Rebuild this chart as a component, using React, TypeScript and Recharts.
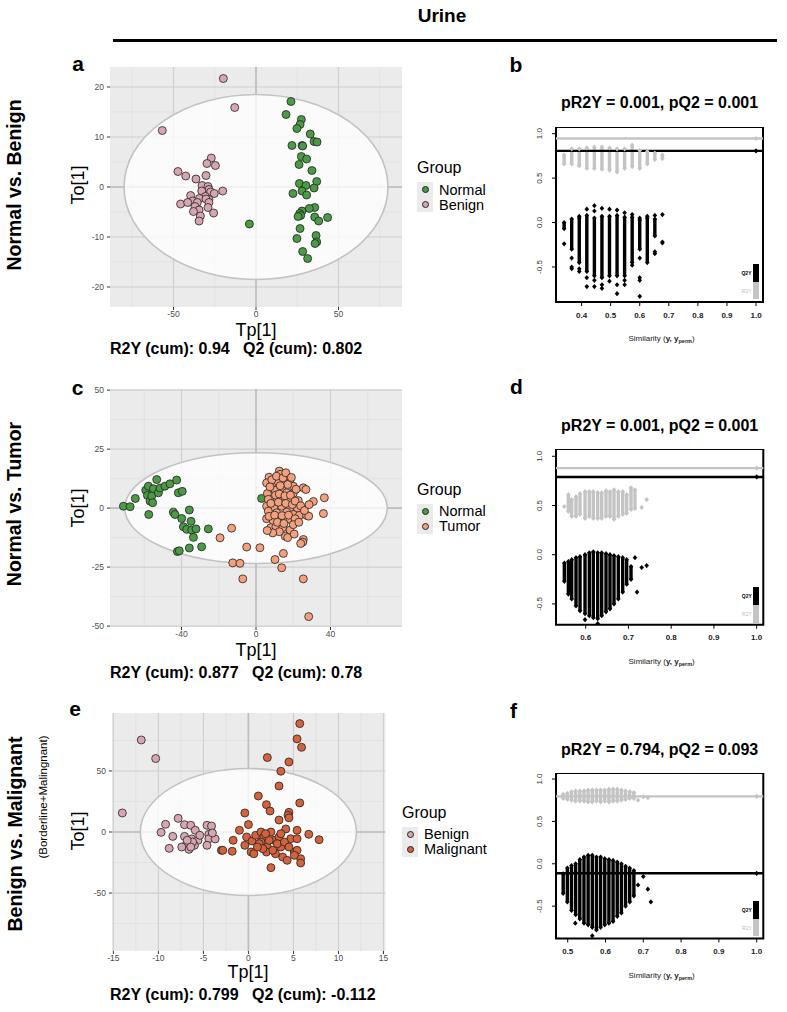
import React from 'react';
import {
  ScatterChart,
  Scatter,
  XAxis,
  YAxis,
  CartesianGrid,
  ReferenceLine,
  ReferenceArea,
} from 'recharts';

const FONT = '"Liberation Sans", Arial, Helvetica, sans-serif';
const NARROW = '"Liberation Sans Narrow", "Arial Narrow", "Liberation Sans", sans-serif';

type XY = [number, number];
type Col = [number, number, number]; // x, low, high

// ---------- score plots (Tp[1] vs To[1]) ----------
const normalA: XY[] = [
  [21.2, 17.1], [18.2, 14.5], [27.5, 13.5], [26.7, 12.5], [24.8, 11.7], [32.9, 10.6], [35.2, 9.1],
  [37.0, 9.0], [21.8, 8.3], [27.9, 8.3], [28.3, 8.2], [27.5, 6.1], [30.7, 5.6], [26.1, 4.5],
  [33.9, 3.3], [36.8, 1.1], [26.3, 0.7], [30.3, 0.3], [35.2, -0.2], [27.9, -0.8], [22.4, -1.3],
  [30.7, -1.6], [35.6, -4.1], [32.3, -4.3], [27.9, -4.8], [26.5, -5.3], [27.1, -5.7], [25.5, -5.9],
  [35.6, -6.0], [38.0, -6.8], [43.4, -6.1], [26.7, -8.3], [-4.0, -7.4], [36.4, -9.7], [24.8, -10.3],
  [36.8, -11.0], [35.8, -11.3], [28.3, -12.9], [31.3, -14.3],
];
const benignA: XY[] = [
  [-19.8, 21.7], [-12.9, 15.9], [-56.8, 11.3], [-27.1, 5.8], [-29.7, 4.7], [-24.6, 4.3], [-47.3, 3.1],
  [-42.6, 2.2], [-30.3, 2.3], [-36.4, 1.6], [-32.7, 0.3], [-29.1, 0.1], [-28.5, -0.5], [-32.9, -0.8],
  [-27.5, -1.0], [-20.2, -0.8], [-25.3, -1.3], [-39.6, -1.7], [-30.7, -1.9], [-34.3, -2.3], [-28.5, -2.5],
  [-38.4, -2.8], [-30.3, -2.4], [-45.7, -3.4], [-41.4, -3.1], [-35.6, -3.1], [-28.5, -3.1], [-37.0, -3.9],
  [-29.1, -4.1], [-34.5, -4.6], [-37.9, -4.9], [-25.7, -5.2], [-33.7, -5.8], [-34.5, -6.8],
];

const normalC: XY[] = [
  [-71.2, 0.8], [-67.6, 0.6], [-64.8, 4.1], [-59.2, 7.6], [-57.8, 9.3], [-55.1, 8.2], [-53.3, 12.1],
  [-58.3, 5.4], [-56.9, 3.0], [-56.0, 5.1], [-55.5, 2.3], [-52.4, 6.5], [-51.5, 8.5], [-48.9, 9.3],
  [-46.2, 10.3], [-42.6, 11.9], [-41.7, 6.5], [-39.6, 7.1], [-57.6, -2.7], [-44.4, -1.7], [-43.5, -2.7],
  [-35.8, -0.8], [-39.9, -4.4], [-34.9, -5.6], [-39.0, -7.9], [-37.2, -9.0], [-34.5, -9.3], [-32.2, -8.8],
  [-25.6, -8.8], [-33.6, -12.4], [-29.2, -16.4], [-35.8, -16.9], [-42.2, -18.4], [-41.2, -18.1], [3.0, 4.1],
];
const tumorC: XY[] = [
  [12.5, 15.7], [12.9, 14.3], [7.0, 13.1], [16.5, 12.4], [5.7, 10.7], [9.3, 10.7], [12.0, 11.0],
  [18.3, 10.7], [20.0, 9.3], [25.4, 8.6], [26.8, 7.9], [6.1, 6.2], [10.2, 7.6], [13.8, 8.6], [16.5, 6.5],
  [20.0, 6.2], [6.6, 3.7], [11.1, 3.0], [14.7, 4.1], [17.9, 3.7], [22.7, 3.2], [30.8, 2.8], [36.7, 4.4],
  [5.7, 0.8], [9.7, 0.1], [13.8, 0.8], [18.3, 0.1], [22.2, 0.0], [6.6, -1.3], [11.1, -2.0], [16.5, -1.7],
  [20.0, -2.7], [23.3, -3.1], [27.2, -3.1], [28.3, -3.4], [36.2, -2.3], [5.7, -4.5], [9.3, -5.5],
  [12.9, -4.8], [18.3, -4.8], [7.9, -8.3], [10.7, -7.9], [14.3, -8.3], [18.3, -9.3], [15.7, -11.9],
  [25.4, -13.3], [25.1, -14.4], [24.0, -15.0], [2.1, -16.8], [-5.0, -16.5], [-13.1, -8.5], [-19.3, -12.6],
  [14.7, -19.2], [10.2, -21.8], [-12.5, -23.2], [-8.6, -23.4], [13.8, -25.3], [-7.1, -30.0], [25.4, -30.0],
  [28.3, -46.0], [8.5, 12.0], [11.0, 13.5], [14.5, 12.8], [17.0, 10.0], [21.5, 8.0], [7.5, 9.0],
  [10.5, 5.5], [12.5, 6.0], [15.5, 5.2], [18.5, 5.5], [8.0, 2.0], [12.0, 2.5], [16.0, 2.0], [19.5, 1.5],
  [21.0, 3.0], [24.0, 1.0], [7.0, -3.5], [10.0, -3.0], [14.0, -3.2], [17.5, -3.0], [21.0, -4.5],
  [11.5, -6.0], [15.0, -6.5], [20.0, -7.0], [23.0, -6.0], [12.5, -10.0], [9.0, -10.5], [17.0, -12.5],
  [20.5, -11.0], [6.0, -9.5], [26.0, -1.0], [28.5, 1.5], [13.0, 9.5], [16.0, 15.0], [19.0, 13.0],
];

const benignE: XY[] = [
  [-11.9, 75.4], [-10.3, 60.2], [-14.0, 15.6], [-9.7, -0.3], [-9.2, 6.3], [-8.4, -3.6], [-8.8, -13.4],
  [-7.8, 11.2], [-7.1, 6.0], [-7.1, -3.6], [-6.9, -10.4], [-6.6, -14.2], [-6.4, 5.5], [-6.3, -5.7],
  [-5.9, 1.4], [-5.6, -6.8], [-6.0, -10.9], [-6.2, -8.2], [-5.4, -2.7], [-4.6, 5.5], [-4.1, 4.9],
  [-4.4, -1.9], [-4.4, -5.5], [-4.6, -10.9], [-3.7, -5.7], [-4.0, -0.8], [-6.4, -12.3], [-6.8, -6.8],
  [-7.4, -12.3],
];
const malignantE: XY[] = [
  [5.7, 88.8], [5.4, 76.3], [5.9, 69.4], [2.1, 61.0], [4.5, 57.4], [3.6, 49.8], [3.4, 37.7], [1.1, 29.5],
  [5.7, 23.8], [2.0, 22.4], [2.4, 17.2], [4.5, 16.1], [4.4, 13.7], [3.4, 9.8], [-0.4, 15.6], [0.0, 6.1],
  [4.5, 11.6], [-1.0, 1.4], [-1.7, -6.8], [-3.0, -15.0], [-2.85, -15.0], [-1.8, -15.8], [-0.4, -10.9],
  [-0.2, -4.1], [0.3, -16.4], [0.6, -17.8], [0.4, -7.4], [0.8, -2.7], [1.4, 0.0], [1.7, -4.1],
  [1.4, -8.2], [2.1, -12.3], [2.0, -16.4], [2.5, 0.0], [2.85, -6.8], [3.0, -17.8], [2.5, -29.2],
  [3.4, -4.1], [3.6, -12.3], [3.8, -20.5], [4.15, 2.5], [4.7, -5.5], [4.3, -23.2], [5.1, -16.4],
  [5.4, -15.0], [5.4, 1.4], [5.4, -5.5], [5.8, -21.9], [5.8, -25.4], [6.7, -1.9], [7.85, -6.3],
  [1.2, -9.6], [2.3, -6.8], [3.2, -9.6], [4.0, -8.2], [4.5, -12.3], [2.7, -15.0], [1.6, -13.7],
  [3.6, -1.4], [5.1, -19.1], [1.0, -12.3], [1.9, -1.4],
];

// ---------- permutation plots: columns of permuted R2Y / Q2Y ----------
const r2yColsB: Col[] = [
  [0.34, 0.66, 0.76], [0.366, 0.66, 0.83], [0.392, 0.64, 0.83], [0.418, 0.61, 0.84], [0.444, 0.61, 0.85],
  [0.47, 0.6, 0.85], [0.496, 0.59, 0.84], [0.522, 0.57, 0.83], [0.548, 0.61, 0.83], [0.574, 0.63, 0.87],
  [0.6, 0.61, 0.81], [0.626, 0.66, 0.8], [0.652, 0.71, 0.78], [0.678, 0.72, 0.76],
];
const q2yColsB: Col[] = [
  [0.34, -0.07, 0.0], [0.366, -0.3, 0.04], [0.392, -0.45, 0.05], [0.418, -0.55, 0.08], [0.444, -0.6, 0.05],
  [0.47, -0.62, 0.07], [0.496, -0.6, 0.07], [0.522, -0.6, 0.08], [0.548, -0.6, 0.06], [0.574, -0.45, 0.06],
  [0.6, -0.3, 0.03], [0.626, -0.45, 0.05], [0.652, -0.15, 0.04],
];
const q2yExtraB: XY[] = [
  [0.34, -0.24], [0.366, -0.4], [0.366, -0.5], [0.366, -0.52], [0.392, 0.07], [0.392, -0.52], [0.392, -0.55],
  [0.418, 0.15], [0.418, -0.62], [0.418, -0.72], [0.444, 0.19], [0.444, 0.13], [0.444, -0.65], [0.444, -0.72],
  [0.47, 0.16], [0.47, -0.7], [0.47, -0.74], [0.496, 0.15], [0.496, -0.66], [0.522, 0.14], [0.522, -0.7],
  [0.522, -0.8], [0.548, 0.11], [0.548, -0.65], [0.548, -0.7], [0.574, 0.09], [0.574, -0.48], [0.6, 0.05],
  [0.6, -0.4], [0.6, -0.62], [0.6, -0.65], [0.6, -0.83], [0.626, 0.07], [0.652, 0.08], [0.652, -0.33],
  [0.652, -0.35], [0.678, 0.09], [0.678, -0.22], [0.678, -0.23],
];

const r2yColsD: Col[] = [
  [0.5594, 0.44, 0.61], [0.5672, 0.39, 0.56], [0.5773, 0.39, 0.59], [0.5867, 0.41, 0.62], [0.5984, 0.37, 0.64],
  [0.6085, 0.39, 0.64], [0.6178, 0.37, 0.64], [0.628, 0.37, 0.63], [0.6374, 0.37, 0.63], [0.6475, 0.39, 0.65],
  [0.6568, 0.39, 0.64], [0.6662, 0.36, 0.66], [0.6763, 0.39, 0.64], [0.6865, 0.41, 0.64], [0.6958, 0.42, 0.61],
  [0.706, 0.46, 0.68], [0.7153, 0.47, 0.66],
];
const r2yExtraD: XY[] = [[0.55, 0.49], [0.731, 0.48], [0.7426, 0.56]];
const q2yColsD: Col[] = [
  [0.55, -0.27, -0.085], [0.5594, -0.4, -0.07], [0.5672, -0.45, -0.05], [0.5773, -0.52, -0.03],
  [0.5867, -0.57, -0.02], [0.5984, -0.6, 0.0], [0.6085, -0.62, 0.02], [0.6178, -0.64, 0.03],
  [0.628, -0.65, 0.02], [0.6374, -0.62, 0.02], [0.6475, -0.58, 0.01], [0.6568, -0.55, 0.0],
  [0.6662, -0.5, -0.01], [0.6763, -0.45, -0.02], [0.6865, -0.38, -0.03], [0.6958, -0.3, -0.05],
  [0.706, -0.25, -0.12],
];
const q2yExtraD: XY[] = [[0.7153, -0.03], [0.72, -0.38], [0.731, -0.13], [0.7426, -0.11], [0.5984, -0.66], [0.628, -0.7]];

const r2yColsF: Col[] = [
  [0.488, 0.77, 0.82], [0.499, 0.76, 0.83], [0.51, 0.75, 0.85], [0.521, 0.74, 0.86], [0.532, 0.74, 0.86],
  [0.543, 0.74, 0.86], [0.554, 0.73, 0.87], [0.565, 0.73, 0.87], [0.576, 0.74, 0.87], [0.587, 0.73, 0.87],
  [0.598, 0.74, 0.87], [0.609, 0.73, 0.88], [0.62, 0.74, 0.88], [0.631, 0.74, 0.88], [0.642, 0.75, 0.87],
  [0.653, 0.76, 0.86], [0.664, 0.77, 0.85], [0.675, 0.77, 0.84],
];
const r2yExtraF: XY[] = [[0.686, 0.75], [0.7, 0.79], [0.712, 0.78]];
const q2yColsF: Col[] = [
  [0.488, -0.35, -0.12], [0.499, -0.45, -0.05], [0.51, -0.55, -0.02], [0.521, -0.6, 0.0], [0.532, -0.65, 0.05],
  [0.543, -0.7, 0.08], [0.554, -0.72, 0.1], [0.565, -0.75, 0.1], [0.576, -0.78, 0.08], [0.587, -0.75, 0.08],
  [0.598, -0.72, 0.06], [0.609, -0.7, 0.05], [0.62, -0.68, 0.04], [0.631, -0.62, 0.02], [0.642, -0.58, 0.0],
  [0.653, -0.5, -0.03], [0.664, -0.45, -0.05], [0.675, -0.38, -0.08],
];
const q2yExtraF: XY[] = [[0.686, -0.25], [0.7, -0.15], [0.712, -0.3], [0.72, -0.45], [0.565, -0.85], [0.52, -0.7]];

const scoreTicksA = { x: [-50, 0, 50], y: [-20, -10, 0, 10, 20], xm: [-75, -25, 25, 75], ym: [-15, -5, 5, 15] };
const scoreTicksC = { x: [-40, 0, 40], y: [-50, -25, 0, 25, 50], xm: [-60, -20, 20, 60], ym: [-37.5, -12.5, 12.5, 37.5] };
const scoreTicksE = {
  x: [-15, -10, -5, 0, 5, 10, 15], y: [-50, 0, 50],
  xm: [-12.5, -7.5, -2.5, 2.5, 7.5, 12.5], ym: [-75, -25, 25, 75],
};
const permYTicks = [-0.5, 0, 0.5, 1.0];

const GREEN = '#4a9a46';
const PINK = '#d8a6b0';
const SALMON = '#f2a07e';
const RUST = '#d4623c';
const GRAY = '#c4c4c4';

const pts = (a: XY[]) => a.map(([x, y]) => ({ x, y }));

function Label({ x, y, text, size, weight = 400, align = 'left', rotate = 0, family = FONT, color = '#000' }: any) {
  const tx = align === 'center' ? '-50%' : align === 'right' ? '-100%' : '0';
  return (
    <div
      style={{
        position: 'absolute', left: x, top: y, transform: `translate(${tx},-50%) rotate(${rotate}deg)`,
        fontSize: size, fontWeight: weight, fontFamily: family, color, whiteSpace: 'nowrap', lineHeight: 1,
      }}
    >
      {text}
    </div>
  );
}

function ScoresPanel(p: any) {
  const axW = 40;
  const axH = 22;
  const padT = 8;
  const padR = 10;
  const kx = p.w / (p.xDomain[1] - p.xDomain[0]);
  const ky = p.h / (p.yDomain[1] - p.yDomain[0]);
  const dot = (fill: string) => (s: any) => (
    <circle cx={s.cx} cy={s.cy} r={4} fill={fill} stroke="#222" strokeWidth={0.8} />
  );
  return (
    <div style={{ position: 'absolute', left: p.left - axW, top: p.top - padT }}>
      <ScatterChart
        width={p.w + axW + padR} height={p.h + axH + padT}
        margin={{ top: padT, right: padR, bottom: 0, left: 0 }}
      >
        <CartesianGrid fill="#ebebeb" stroke="#dedede" strokeWidth={0.7} verticalValues={p.ticks.xm} horizontalValues={p.ticks.ym} />
        <CartesianGrid stroke="#d0d0d0" strokeWidth={1.2} verticalValues={p.ticks.x} horizontalValues={p.ticks.y} />
        <XAxis
          type="number" dataKey="x" domain={p.xDomain} ticks={p.ticks.x} allowDataOverflow interval={0}
          height={axH} axisLine={false} tickLine={{ stroke: '#333' }} tickSize={3} tickMargin={1}
          tick={{ fontSize: 8.5, fill: '#4d4d4d', fontFamily: FONT }}
        />
        <YAxis
          type="number" dataKey="y" domain={p.yDomain} ticks={p.ticks.y} allowDataOverflow interval={0}
          width={axW} axisLine={false} tickLine={{ stroke: '#333' }} tickSize={3} tickMargin={3}
          tick={{ fontSize: 8.5, fill: '#4d4d4d', fontFamily: FONT }}
        />
        <Scatter
          data={[{ x: 0, y: 0 }]}
          isAnimationActive={false}
          shape={(s: any) => (
            <ellipse
              cx={s.cx} cy={s.cy} rx={p.ellipse[0] * kx} ry={p.ellipse[1] * ky}
              fill="#ffffff" fillOpacity={0.78} stroke="#c2c2c2" strokeWidth={1.6}
            />
          )}
        />
        <ReferenceLine x={0} stroke="#bdbdbd" strokeWidth={1.6} />
        <ReferenceLine y={0} stroke="#bdbdbd" strokeWidth={1.6} />
        {p.groups.map((g: any) => (
          <Scatter key={g.name} name={g.name} data={pts(g.data)} shape={dot(g.fill)} isAnimationActive={false} />
        ))}
      </ScatterChart>
    </div>
  );
}

function GroupLegend({ x, y, groups }: any) {
  const step = 15;
  return (
    <>
      <Label x={x} y={y - 19} text="Group" size={16} />
      <div style={{ position: 'absolute', left: x, top: y - 5, width: 16, height: 30, background: '#ebebeb' }} />
      {groups.map((g: any, i: number) => (
        <React.Fragment key={g.name}>
          <div
            style={{
              position: 'absolute', left: x + 8 - 3.5, top: y + 2.5 + i * step - 3.5, width: 7, height: 7,
              borderRadius: '50%', background: g.fill, border: '0.8px solid #222', boxSizing: 'border-box',
            }}
          />
          <Label x={x + 22} y={y + 2.5 + i * step} text={g.name} size={14.5} />
        </React.Fragment>
      ))}
    </>
  );
}

const diamond = (fill: string) => (s: any) => (
  <polygon
    points={`${s.cx},${s.cy - 2.6} ${s.cx + 2.3},${s.cy} ${s.cx},${s.cy + 2.6} ${s.cx - 2.3},${s.cy}`}
    fill={fill}
  />
);

const RotTick = (t: any) => (
  <text
    x={t.x - 8} y={t.y} transform={`rotate(-90 ${t.x - 8} ${t.y})`} textAnchor="middle"
    fontSize={8} fill="#333" fontFamily={FONT}
  >
    {Number(t.payload.value).toFixed(1)}
  </text>
);

function PermPanel(p: any) {
  const axW = 24;
  const axH = 22;
  const ends = (cols: Col[]) => cols.flatMap(([x, lo, hi]) => [{ x, y: lo }, { x, y: hi }]);
  const r2Pts = [...ends(p.r2Cols), ...pts(p.r2Extra || []), { x: 1.0, y: p.r2Line }];
  const q2Pts = [...ends(p.q2Cols), ...pts(p.q2Extra || []), { x: 1.0, y: p.q2Line }];
  const right = p.left + p.w;
  const bottom = p.top + p.h;
  return (
    <>
      <Label x={p.left + p.w / 2} y={p.top - 23.5} text={p.title} size={16} weight={700} align="center" />
      <div style={{ position: 'absolute', left: p.left - axW, top: p.top }}>
        <ScatterChart width={p.w + axW + 2} height={p.h + axH} margin={{ top: 0, right: 2, bottom: 0, left: 0 }}>
          <XAxis
            type="number" dataKey="x" domain={p.xDomain} ticks={p.xTicks} allowDataOverflow interval={0}
            height={axH} axisLine={false} tickLine={{ stroke: '#000' }} tickSize={4} tickMargin={6}
            tickFormatter={(v: number) => v.toFixed(1)}
            tick={{ fontSize: 8, fill: '#222', fontWeight: 700, fontFamily: FONT }}
          />
          <YAxis
            type="number" dataKey="y" domain={p.yDomain} ticks={permYTicks} allowDataOverflow interval={0}
            width={axW} axisLine={false} tickLine={{ stroke: '#000' }} tickSize={4} tick={<RotTick />}
          />
          {p.r2Cols.map((c: Col) => (
            <ReferenceLine key={'r' + c[0]} segment={[{ x: c[0], y: c[1] }, { x: c[0], y: c[2] }]} stroke={GRAY} strokeWidth={3.4} />
          ))}
          {p.q2Cols.map((c: Col) => (
            <ReferenceLine key={'q' + c[0]} segment={[{ x: c[0], y: c[1] }, { x: c[0], y: c[2] }]} stroke="#000" strokeWidth={3.4} />
          ))}
          <ReferenceLine y={p.r2Line} stroke={GRAY} strokeWidth={2.4} />
          <ReferenceLine y={p.q2Line} stroke="#000" strokeWidth={2.4} />
          <Scatter data={r2Pts} shape={diamond(GRAY)} isAnimationActive={false} />
          <Scatter data={q2Pts} shape={diamond('#000')} isAnimationActive={false} />
          <ReferenceArea
            x1={p.xDomain[0]} x2={p.xDomain[1]} y1={p.yDomain[0]} y2={p.yDomain[1]}
            fill="none" fillOpacity={0} stroke="#000" strokeWidth={2}
          />
        </ScatterChart>
      </div>
      <div style={{ position: 'absolute', left: right - 10.5, top: bottom - 38, width: 6.5, height: 18, background: '#000' }} />
      <div style={{ position: 'absolute', left: right - 10.5, top: bottom - 20, width: 6.5, height: 17.5, background: GRAY }} />
      <Label x={right - 11.5} y={bottom - 29} text="Q2Y" size={5} weight={700} align="right" />
      <Label x={right - 11.5} y={bottom - 11} text="R2Y" size={5} align="right" color="#bbb" />
      <div
        style={{
          position: 'absolute', left: p.left + p.w / 2 + 2, top: bottom + 37, transform: 'translate(-50%,-50%)',
          fontSize: 8, fontFamily: FONT, whiteSpace: 'nowrap', color: '#222',
        }}
      >
        Similarity (<b>y, y<sub style={{ fontSize: 5.5 }}>perm</sub></b>)
      </div>
    </>
  );
}

export default function App() {
  return (
    <div
      style={{
        position: 'absolute', left: 0, top: 0, width: 787, height: 1012, background: '#fff',
        fontFamily: FONT, overflow: 'hidden',
      }}
    >
      <Label x={442} y={15} text="Urine" size={19} weight={700} align="center" family={NARROW} />
      <div style={{ position: 'absolute', left: 113, top: 38.5, width: 664, height: 3, background: '#000' }} />

      <Label x={15} y={185} text="Normal vs. Benign" size={19.5} weight={700} align="center" rotate={-90} />
      <Label x={15} y={504} text="Normal vs. Tumor" size={19.5} weight={700} align="center" rotate={-90} />
      <Label x={16} y={834} text="Benign vs. Malignant" size={19.5} weight={700} align="center" rotate={-90} />
      <Label x={44} y={797} text="(Borderline+Malingnant)" size={11.5} align="center" rotate={-90} family={NARROW} />

      <Label x={78} y={63} text="a" size={21} weight={700} align="center" />
      <Label x={516} y={64} text="b" size={21} weight={700} align="center" />
      <Label x={77.5} y={387} text="c" size={21} weight={700} align="center" />
      <Label x={516.5} y={385.5} text="d" size={21} weight={700} align="center" />
      <Label x={75} y={708} text="e" size={21} weight={700} align="center" />
      <Label x={513.5} y={709.5} text="f" size={21} weight={700} align="center" />

      {/* a */}
      <ScoresPanel
        left={110} top={67} w={292} h={240} xDomain={[-88.5, 88.5]} yDomain={[-24, 24]} ticks={scoreTicksA}
        ellipse={[80, 18.5]}
        groups={[{ name: 'Normal', data: normalA, fill: GREEN }, { name: 'Benign', data: benignA, fill: PINK }]}
      />
      <Label x={77.5} y={185} text="To[1]" size={18} align="center" rotate={-90} />
      <Label x={256} y={329.5} text="Tp[1]" size={18} align="center" />
      <Label x={110} y={349} text={'R2Y (cum): 0.94\u00a0\u00a0\u00a0Q2 (cum): 0.802'} size={16} weight={700} />
      <GroupLegend x={417} y={187} groups={[{ name: 'Normal', fill: GREEN }, { name: 'Benign', fill: PINK }]} />

      {/* c */}
      <ScoresPanel
        left={110} top={389.3} w={292} h={238} xDomain={[-78.4, 78.4]} yDomain={[-50.4, 50.5]} ticks={scoreTicksC}
        ellipse={[70.5, 23.5]}
        groups={[{ name: 'Normal', data: normalC, fill: GREEN }, { name: 'Tumor', data: tumorC, fill: SALMON }]}
      />
      <Label x={77.5} y={508} text="To[1]" size={18} align="center" rotate={-90} />
      <Label x={256} y={650} text="Tp[1]" size={18} align="center" />
      <Label x={110} y={672.5} text={'R2Y (cum): 0.877\u00a0\u00a0\u00a0Q2 (cum): 0.78'} size={16} weight={700} />
      <GroupLegend x={417} y={508.5} groups={[{ name: 'Normal', fill: GREEN }, { name: 'Tumor', fill: SALMON }]} />

      {/* e */}
      <ScoresPanel
        left={111.7} top={712.7} w={273.3} h={238} xDomain={[-15.15, 15.2]} yDomain={[-97.5, 97.5]} ticks={scoreTicksE}
        ellipse={[12, 52]}
        groups={[{ name: 'Benign', data: benignE, fill: PINK }, { name: 'Malignant', data: malignantE, fill: RUST }]}
      />
      <Label x={77.5} y={831} text="To[1]" size={18} align="center" rotate={-90} />
      <Label x={248} y={972} text="Tp[1]" size={18} align="center" />
      <Label x={110} y={995} text={'R2Y (cum): 0.799\u00a0\u00a0\u00a0Q2 (cum): -0.112'} size={16} weight={700} />
      <GroupLegend x={402} y={831.7} groups={[{ name: 'Benign', fill: PINK }, { name: 'Malignant', fill: RUST }]} />

      {/* b, d, f */}
      <PermPanel
        left={556} top={126.7} w={207} h={175} xDomain={[0.312, 1.024]} yDomain={[-0.894, 1.075]}
        xTicks={[0.4, 0.5, 0.6, 0.7, 0.8, 0.9, 1.0]} title="pR2Y = 0.001, pQ2 = 0.001"
        r2Cols={r2yColsB} q2Cols={q2yColsB} q2Extra={q2yExtraB} r2Line={0.945} q2Line={0.806}
      />
      <PermPanel
        left={556} top={449.3} w={207.3} h={175.7} xDomain={[0.5305, 1.0155]} yDomain={[-0.711, 1.074]}
        xTicks={[0.6, 0.7, 0.8, 0.9, 1.0]} title="pR2Y = 0.001, pQ2 = 0.001"
        r2Cols={r2yColsD} r2Extra={r2yExtraD} q2Cols={q2yColsD} q2Extra={q2yExtraD} r2Line={0.88} q2Line={0.79}
      />
      <PermPanel
        left={556} top={773.3} w={207.3} h={165.4} xDomain={[0.469, 1.0175]} yDomain={[-0.88, 1.071]}
        xTicks={[0.5, 0.6, 0.7, 0.8, 0.9, 1.0]} title="pR2Y = 0.794, pQ2 = 0.093"
        r2Cols={r2yColsF} r2Extra={r2yExtraF} q2Cols={q2yColsF} q2Extra={q2yExtraF} r2Line={0.795} q2Line={-0.112}
      />
    </div>
  );
}
